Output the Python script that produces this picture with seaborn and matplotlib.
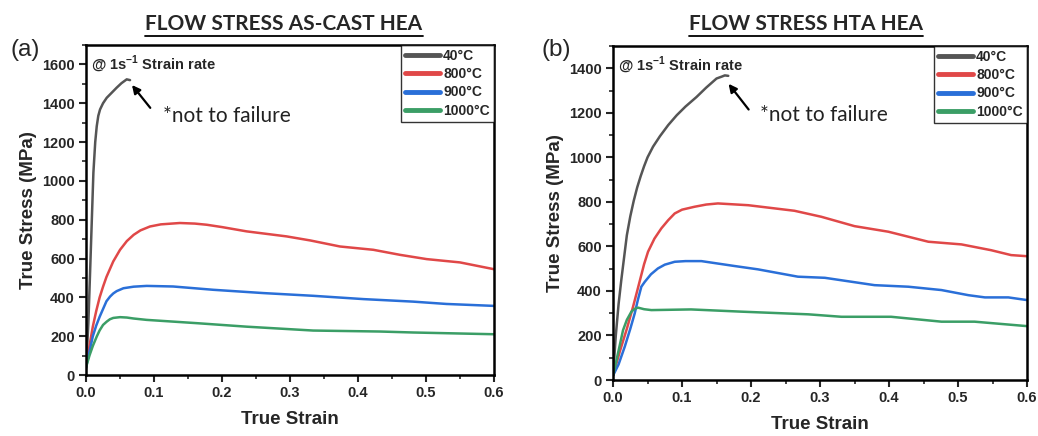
import numpy as np
import pandas as pd
import matplotlib
matplotlib.use("Agg")
import matplotlib.pyplot as plt
from matplotlib.lines import Line2D
from matplotlib.ticker import MultipleLocator
import seaborn as sns

# ---------------- data ----------------
temps = ["40°C", "800°C", "900°C", "1000°C"]
colors = ["#555555", "#e04848", "#2a6fd8", "#3b9e66"]

# (a) AS-CAST HEA
a_strain_40 = [0, 0.0034, 0.0059, 0.0085, 0.0108, 0.0135, 0.0157, 0.018, 0.0206, 0.025, 0.0304,
               0.038, 0.045, 0.052, 0.0598, 0.0647]
a_stress_40 = [30, 268, 526, 800, 1042, 1200, 1281, 1335, 1368, 1400, 1428, 1455, 1480, 1503, 1523, 1519]
a_strain_800 = [0, 0.005, 0.01, 0.015, 0.02, 0.025, 0.03, 0.035, 0.04, 0.05, 0.06, 0.07, 0.08,
                0.094, 0.11, 0.138, 0.16, 0.1775, 0.2, 0.236, 0.295, 0.33, 0.3735, 0.4225,
                0.4618, 0.501, 0.55, 0.6]
a_stress_800 = [40, 150, 250, 330, 400, 455, 505, 545, 585, 645, 690, 722, 745,
                765, 776, 783, 780, 774, 762, 740, 714, 693, 662, 645,
                619, 597, 580, 545]
a_strain_900 = [0, 0.005, 0.01, 0.015, 0.02, 0.025, 0.03, 0.0353, 0.04, 0.045, 0.055, 0.07, 0.0892,
                0.128, 0.187, 0.261, 0.334, 0.408, 0.481, 0.530, 0.6]
a_stress_900 = [40, 120, 200, 255, 300, 340, 380, 404, 420, 432, 447, 455, 459,
                456, 439, 422, 408, 391, 378, 366, 356]
a_strain_1000 = [0, 0.005, 0.01, 0.0157, 0.02, 0.025, 0.0304, 0.035, 0.04, 0.05, 0.06, 0.07, 0.089,
                 0.163, 0.236, 0.334, 0.432, 0.481, 0.6]
a_stress_1000 = [40, 100, 150, 198, 230, 258, 275, 287, 294, 298, 296, 291, 284,
                 267, 249, 229, 224, 219, 210]

# (b) HTA HEA
b_strain_40 = [0, 0.004, 0.008, 0.012, 0.016, 0.02, 0.025, 0.03, 0.035, 0.04, 0.045, 0.05, 0.058,
               0.068, 0.08, 0.0923, 0.105, 0.121, 0.135, 0.15, 0.158, 0.162, 0.167]
b_stress_40 = [20, 200, 340, 450, 550, 650, 735, 805, 865, 915, 960, 1000, 1048,
               1095, 1145, 1189, 1228, 1271, 1313, 1354, 1363, 1368, 1366]
b_strain_800 = [0, 0.01, 0.02, 0.029, 0.035, 0.04, 0.045, 0.0507, 0.06, 0.070, 0.08, 0.0894, 0.1,
                0.118, 0.135, 0.152, 0.196, 0.263, 0.302, 0.350, 0.399,
                0.457, 0.505, 0.548, 0.577, 0.6]
b_stress_800 = [20, 130, 230, 329, 400, 460, 520, 576, 635, 681, 718, 748, 765,
                778, 788, 793, 785, 760, 733, 691, 666,
                621, 609, 583, 561, 556]
b_strain_900 = [0, 0.008, 0.017, 0.025, 0.0314, 0.036, 0.041, 0.046, 0.055, 0.065, 0.075, 0.0894,
                0.105, 0.128, 0.176, 0.210, 0.268, 0.307,
                0.379, 0.428, 0.476, 0.515, 0.539, 0.573, 0.6]
b_stress_900 = [20, 70, 150, 230, 299, 360, 419, 441, 475, 501, 518, 531,
                534, 534, 512, 497, 464, 459,
                426, 419, 404, 381, 371, 371, 359]
b_strain_1000 = [0, 0.005, 0.01, 0.0145, 0.02, 0.0266, 0.0315, 0.0362, 0.045, 0.0555, 0.113,
                 0.186, 0.283, 0.331, 0.403, 0.476, 0.524, 0.6]
b_stress_1000 = [20, 90, 160, 224, 270, 307, 320, 325, 318, 314, 317,
                 307, 295, 284, 284, 262, 262, 242]

panels = [
    dict(tag="(a)", title="FLOW STRESS AS-CAST HEA", ymax=1700,
         strains=[a_strain_40, a_strain_800, a_strain_900, a_strain_1000],
         stresses=[a_stress_40, a_stress_800, a_stress_900, a_stress_1000],
         arrow_head=(0.065, 1505), arrow_tail=(0.097, 1365), note_xy=(0.113, 1335)),
    dict(tag="(b)", title="FLOW STRESS HTA HEA", ymax=1500,
         strains=[b_strain_40, b_strain_800, b_strain_900, b_strain_1000],
         stresses=[b_stress_40, b_stress_800, b_stress_900, b_stress_1000],
         arrow_head=(0.165, 1340), arrow_tail=(0.199, 1205), note_xy=(0.213, 1188)),
]

sns.set_theme(style="white")
plt.rcParams["font.family"] = ["Liberation Sans", "DejaVu Sans"]
plt.rcParams["mathtext.fontset"] = "custom"
plt.rcParams["mathtext.rm"] = "Liberation Sans:bold"
plt.rcParams["mathtext.bf"] = "Liberation Sans:bold"

fig = plt.figure(figsize=(10.38, 4.36), dpi=100)
axes_pos = [[0.0829, 0.1399, 0.3930, 0.7569], [0.5906, 0.1284, 0.3988, 0.7661]]
title_x = [0.2736, 0.7765]
tag_x = [0.024, 0.536]

for i, p in enumerate(panels):
    ax = fig.add_axes(axes_pos[i])
    frames = []
    for t, s, y in zip(temps, p["strains"], p["stresses"]):
        frames.append(pd.DataFrame({"strain": s, "stress": y, "temp": t}))
    df = pd.concat(frames, ignore_index=True)
    sns.lineplot(data=df, x="strain", y="stress", hue="temp", hue_order=temps,
                 palette=colors, estimator=None, sort=False, linewidth=1.8, ax=ax,
                 legend=False)
    ax.set_xlim(0, 0.6)
    ax.set_ylim(0, p["ymax"])
    ax.xaxis.set_major_locator(MultipleLocator(0.1))
    ax.xaxis.set_minor_locator(MultipleLocator(0.05))
    ax.yaxis.set_major_locator(MultipleLocator(200))
    ax.yaxis.set_minor_locator(MultipleLocator(100))
    ax.xaxis.set_major_formatter(matplotlib.ticker.FormatStrFormatter("%.1f"))
    ax.tick_params(which="major", direction="out", length=5, width=1.5, labelsize=10.5,
                   bottom=True, left=True, pad=3)
    ax.tick_params(which="minor", direction="out", length=3, width=1.2, bottom=True, left=True)
    for lab in ax.get_xticklabels() + ax.get_yticklabels():
        lab.set_fontweight("bold")
    for sp in ax.spines.values():
        sp.set_linewidth(1.8)
        sp.set_color("black")
    ax.set_xlabel("True Strain", fontsize=13.5, fontweight="bold", labelpad=8)
    ax.set_ylabel("True Stress (MPa)", fontsize=13.5, fontweight="bold", labelpad=4)

    handles = [Line2D([0], [0], color=c, lw=3.5) for c in colors]
    leg = ax.legend(handles, temps, loc="upper right", borderaxespad=0, frameon=True,
                    fancybox=False, edgecolor="black", prop=dict(weight="bold", size=10),
                    handlelength=2.5, handletextpad=0.25, labelspacing=0.3, borderpad=0.3)
    leg.get_frame().set_linewidth(1.0)

    ax.text(0.012, 0.975, r"@ 1s$^{-1}$ Strain rate", transform=ax.transAxes,
            ha="left", va="top", fontsize=10.5, fontweight="bold")
    ax.annotate("", xy=p["arrow_head"], xytext=p["arrow_tail"],
                arrowprops=dict(arrowstyle="-|>", color="black", lw=1.6, mutation_scale=12))
    ax.text(p["note_xy"][0], p["note_xy"][1], "*not to failure", fontsize=15,
            family=["Lato", "DejaVu Sans"], ha="left", va="center", color="#222222")

    fig.text(tag_x[i], 0.885, p["tag"], fontsize=17.5, ha="center", va="center")
    tt = fig.text(title_x[i], 0.945, p["title"], fontsize=15, fontweight="bold",
                  family=["Lato", "DejaVu Sans"], ha="center", va="center")
    p["tt"] = tt

fig.canvas.draw()
r = fig.canvas.get_renderer()
for p in panels:
    bb = p["tt"].get_window_extent(renderer=r).transformed(fig.transFigure.inverted())
    yline = bb.y0 - 0.004
    fig.add_artist(Line2D([bb.x0, bb.x1], [yline, yline], transform=fig.transFigure,
                          color="black", lw=1.3))

fig.savefig("out.png", dpi=100)
